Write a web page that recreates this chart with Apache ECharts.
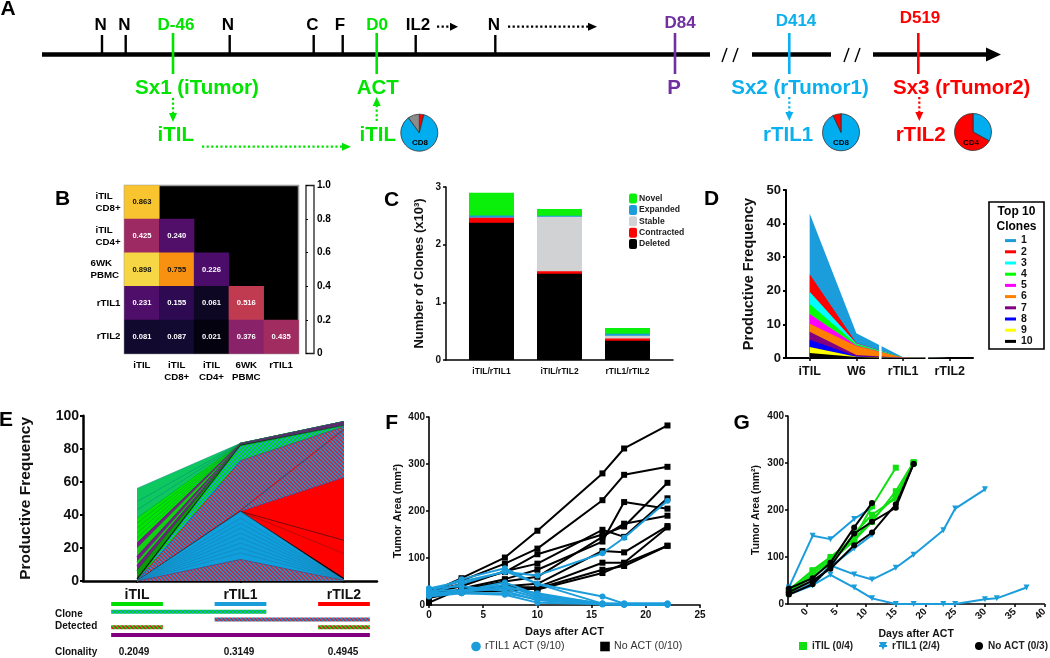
<!DOCTYPE html>
<html><head><meta charset="utf-8">
<style>html,body{margin:0;padding:0;background:#fff}#c{width:1050px;height:658px}</style>
<script src="https://cdn.jsdelivr.net/npm/echarts@6/dist/echarts.min.js"></script>
</head><body><div id="c"></div>
<script>
// ---------- DATA ----------
// B: repertoire overlap
const heatCols = ['iTIL','iTIL\nCD8+','iTIL\nCD4+','6WK\nPBMC','rTIL1'];
const heatRows = ['iTIL\nCD8+','iTIL\nCD4+','6WK\nPBMC','rTIL1','rTIL2'];
const heatRow0 = [0.863];
const heatRow1 = [0.425,0.240];
const heatRow2 = [0.898,0.755,0.226];
const heatRow3 = [0.231,0.155,0.061,0.516];
const heatRow4 = [0.081,0.087,0.021,0.376,0.435];
const colorbarTicks = [0,0.2,0.4,0.6,0.8,1.0];
// C: clones
const cloneCats = ['iTIL/rTIL1','iTIL/rTIL2','rTIL1/rTIL2'];
const cDeleted    = [2.38,1.497,0.334];
const cContracted = [0.085,0.04,0.04];
const cStable     = [0,0.945,0.046];
const cExpanded   = [0.04,0.02,0.035];
const cNovel      = [0.395,0.115,0.098];
// D: top 10 clones, stacked from clone 10 upward
const dCats = ['iTIL','W6','rTIL1','rTIL2'];
const dClone10 = [1.5,0.3,0.01,0];
const dClone9  = [1.8,0.1,0.01,0];
const dClone8  = [2.1,0.1,0.01,0];
const dClone7  = [2.4,0.4,0.01,0];
const dClone6  = [2.4,2.7,0.05,0];
const dClone5  = [2.9,0.1,0.01,0];
const dClone4  = [3.0,0.4,0.02,0];
const dClone3  = [3.6,0.2,0.01,0];
const dClone2  = [5.2,0.2,0.01,0];
const dClone1  = [18.1,2.9,0.05,0];
// E: clone tracking, stacked bottom to top [iTIL, rTIL1, rTIL2]
const eCats = ['iTIL','rTIL1','rTIL2'];
const eLowShared = [0,13,0.3];
const eBlue1=[0,4,0.04], eBlue2=[0,3,0.03], eBlue3=[0,3,0.03], eBlue4=[0,3,0.03], eBlue5=[0,3,0.03],
      eBlue6=[0,3,0.03], eBlue7=[0,3,0.03], eBlue8=[0,3,0.03], eBlue9=[0,4,0.04];
const eEdge = [0,0.1,1];
const eRed1=[0,0,15], eRed2=[0,0,8], eRed3=[0,0,38];
const eSharedA=[0,0.4,29], eStreak=[0,0.3,0.3], eSharedB=[0,30,1.5];
const eGreenShared=[0.5,9,0.6];
const eBlackFan=[1,0.3,0];
const eDarkGreen=[5,0,0];
const ePurple1=[3,0.4,0.8], eFan1=[2.5,0,0], ePurple2=[3,0.4,0.8], eFan2=[5,0,0], ePurple3=[3,0.4,0.9];
const eFan3=[3,0,0], eFan4=[3,0,0], eFan5=[3,0,0], eFan6=[3,0,0], eFan7=[3,0,0];
const eTeal1=[5,0,0], eTeal2=[5,0,0], eTeal3=[8,0,0];
const eRowLabels=['s1','s2','s3','s4','s5'];
const clonality=['0.2049','0.3149','0.4945'];
// F
const fDays=[0,3,7,10,16,18,22];
const fNo1=[25,57,101,158,280,333,382];
const fNo2=[30,52,88,120,223,277,294];
const fNo3=[28,45,70,108,150,167,260];
const fNo4=[25,40,72,88,160,145,227];
const fNo5=[5,35,55,75,135,219,205];
const fNo6=[20,33,50,60,145,173,190];
const fNo7=[25,30,40,45,115,112,168];
const fNo8=[15,30,38,38,90,90,165];
const fNo9=[22,28,30,35,75,83,126];
const fNo10=[30,28,42,33,68,88,126];
const fAct1=[35,50,70,63,110,143,222];
const fAct2=[28,55,78,45,18,3,3];
const fAct3=[25,45,72,45,3,3,3];
const fAct4=[22,30,48,22,3,2,2];
const fAct5=[30,32,42,18,2,1,1];
const fAct6=[20,28,35,15,3,1,1];
const fAct7=[27,25,25,12,2,1,1];
const fAct8=[18,25,22,5,2,1,1];
const fAct9=[35,40,30,10,1,1,1];
const fAct10=[24,30,38,25,2,1,1];
// G
const gDays=[-3,1,4,8,11,15,18];
const gDaysLong=[-3,1,4,8,11,15,18,23,25,30,32,37];
const gITIL1=[30,72,100,140,208,290];
const gITIL2=[25,65,90,135,175,240,302];
const gITIL3=[22,60,85,150,190,225,300];
const gITIL4=[28,70,95,138,180,230,300];
const gR1=[35,145,138,181,205];
const gR2=[20,40,80,118,147];
const gR3=[20,45,82,63,52,77,105,157,203,244];
const gR4=[22,40,62,35,12,0,0,0,0,10,12,35];
const gNo1=[33,55,88,163,215];
const gNo2=[20,42,80,150,175,205,298];
const gNo3=[25,50,75,125,152,212,298];
// A: pies
const pie1=[4,86,10], pie2=[93,7], pie3=[33,67];
const tlBlackLabels=['N','N','N','C','F','IL2','N'];
const tlDayLabels=['D-46','D0','D84','D414','D519'];

// ---------- STYLE / LAYOUT ----------
const FF='"Liberation Sans",Arial,sans-serif';
const GREEN='#00E400', SKY='#0CB0EE', RED='#FF0000', PURPLE='#7B1A8A', BLUE='#1B9DDB';
function hatch(a,b){
  const c=document.createElement('canvas');c.width=4;c.height=4;
  const x=c.getContext('2d');x.fillStyle=a;x.fillRect(0,0,4,4);x.fillStyle=b;
  for(let i=0;i<4;i++){x.fillRect(i,i,1,1);x.fillRect((i+1)%4,i,1,1);}
  return {image:c,repeat:'repeat'};
}
const H_BR=hatch('#1B8FD0','#D02A3A'), H_GB=hatch('#00E000','#1B9DDB'), H_GR=hatch('#10D010','#E02020');
const bold=(s,c)=>({fontFamily:FF,fontWeight:'bold',fontSize:s,color:c||'#000'});
const axLine=w=>({show:true,onZero:false,lineStyle:{color:'#000',width:w}});
const axTick=(l,w)=>({show:true,length:l,lineStyle:{color:'#000',width:w}});
// running totals of a bottom-to-top list of bands
function cumulate(list){let s=list[0].map(()=>0);return list.map(v=>{s=s.map((a,i)=>a+v[i]);return s;});}

const grids=[], xAxes=[], yAxes=[], series=[], legends=[], gfx=[];
function addGrid(g,x,y){grids.push(Object.assign({containLabel:false},g));const i=grids.length-1;
  xAxes.push(Object.assign({gridIndex:i},x));yAxes.push(Object.assign({gridIndex:i},y));return i;}
const T=(x,y,t,size,color,align,extra)=>gfx.push(Object.assign({type:'text',x,y,z:50,silent:true,
  style:{text:t,fontFamily:FF,fontWeight:'bold',fontSize:size,fill:color||'#000',textAlign:align||'center',textVerticalAlign:'middle'}},extra||{}));

// ---------- PANEL A ----------
const TL_PURPLE='#7030A0';
const gA=addGrid({left:0,top:0,width:1050,height:658,show:false},
  {type:'value',min:0,max:1050,show:false},{type:'value',min:0,max:658,inverse:true,show:false});
const tlMarks=[];
const L=(x1,y1,x2,y2,c,w,d)=>tlMarks.push({k:'l',x1,y1,x2,y2,c,w,d});
const P=(pts,c)=>tlMarks.push({k:'p',pts,c});
L(42,54.5,710,54.5,'#000',4.6);L(752,54.5,831,54.5,'#000',4.6);L(873,54.5,988,54.5,'#000',4.6);
P([[986,47.5],[1001,54.5],[986,61.5]],'#000');
L(722,62,727,48,'#000',1.4);L(733,62,738,48,'#000',1.4);
L(844,62,849,48,'#000',1.4);L(855,62,860,48,'#000',1.4);
const blackTickX=[102,125.7,229.7,313.7,342.7,415.7,495.3];
blackTickX.forEach(x=>L(x,35,x,54,'#000',2.4));
[[173,GREEN],[376.7,GREEN],[675,TL_PURPLE],[789.3,SKY],[918.3,RED]].forEach(a=>L(a[0],33,a[0],74,a[1],2.6));
const dash=[2.2,2.4];
L(437,26.7,451,26.7,'#000',2.2,dash);P([[450,22.7],[458,26.7],[450,30.7]],'#000');
L(508,26.7,589,26.7,'#000',2.2,dash);P([[588,22.7],[597,26.7],[588,30.7]],'#000');
L(173,98,173,113,GREEN,2.2,dash);P([[169,113],[177,113],[173,122]],GREEN);
L(202,146.7,342,146.7,GREEN,2.2,dash);P([[342,142.7],[351,146.7],[342,150.7]],GREEN);
L(376.7,121,376.7,106,GREEN,2.2,dash);P([[372.7,106],[380.7,106],[376.7,97]],GREEN);
L(789.3,97,789.3,112,SKY,2.2,dash);P([[785.3,112],[793.3,112],[789.3,121]],SKY);
L(919.3,97,919.3,112,RED,2.2,dash);P([[915.3,112],[923.3,112],[919.3,121]],RED);
series.push({type:'custom',xAxisIndex:gA,yAxisIndex:gA,silent:true,data:tlMarks.map((m,i)=>[i]),z:1,clip:false,
  renderItem(p,api){const m=tlMarks[p.dataIndex];
    if(m.k==='l'){const a=api.coord([m.x1,m.y1]),b=api.coord([m.x2,m.y2]);
      return {type:'line',shape:{x1:a[0],y1:a[1],x2:b[0],y2:b[1]},style:{stroke:m.c,lineWidth:m.w,lineDash:m.d||null,fill:null}};}
    return {type:'polygon',shape:{points:m.pts.map(q=>api.coord(q))},style:{fill:m.c}};}});
// timeline text
const blackLabelX=[100.7,124.3,228,312.5,340,418,494];
tlBlackLabels.forEach((t,i)=>T(blackLabelX[i],25,t,17));
const dayX=[176,377,680,796,920], dayY=[25,25,23,21,18], dayC=[GREEN,GREEN,TL_PURPLE,SKY,RED];
tlDayLabels.forEach((t,i)=>T(dayX[i],dayY[i],t,17,dayC[i]));
T(197,88,'Sx1 (iTumor)',20.5,GREEN);T(377.7,88,'ACT',20.5,GREEN);T(674,88,'P',20.5,TL_PURPLE);
T(800,88,'Sx2 (rTumor1)',20.5,SKY);T(961.7,88,'Sx3 (rTumor2)',20.5,RED);
T(175.7,135,'iTIL',20.5,GREEN);T(377.7,135,'iTIL',20.5,GREEN);T(788,135,'rTIL1',20.5,SKY);T(920.7,135,'rTIL2',20.5,RED);
const pieBase={type:'pie',radius:18.5,startAngle:90,clockwise:true,silent:true,label:{show:false},labelLine:{show:false},
  itemStyle:{borderColor:'#333',borderWidth:0.8},emphasis:{disabled:true},z:5};
series.push(Object.assign({},pieBase,{center:[419.3,132.7],data:[
  {value:pie1[0],name:'a1',itemStyle:{color:RED}},{value:pie1[1],name:'a2',itemStyle:{color:'#00AEEF'}},{value:pie1[2],name:'a3',itemStyle:{color:'#8C8C8C'}}]}));
series.push(Object.assign({},pieBase,{center:[841,132.3],data:[
  {value:pie2[0],name:'b1',itemStyle:{color:'#00AEEF'}},{value:pie2[1],name:'b2',itemStyle:{color:RED}}]}));
series.push(Object.assign({},pieBase,{center:[973,132],data:[
  {value:pie3[0],name:'c1',itemStyle:{color:'#00AEEF'}},{value:pie3[1],name:'c2',itemStyle:{color:RED}}]}));
T(420,143,'CD8',8,'#000');T(841,143,'CD8',8,'#000');T(971,143,'CD4',8,'#000');

// ---------- PANEL LETTERS ----------
[['A',8,9],['B',62.7,199],['C',391.7,200],['D',711.7,199],['E',6,420],['F',391.7,423],['G',741.7,423]]
  .forEach(a=>T(a[1],a[2],a[0],21));

// ---------- PANEL B ----------
const richW={w25:{width:25,align:'left',lineHeight:12,fontFamily:FF,fontWeight:'bold',fontSize:9.7,color:'#000'},
             w29:{width:30,align:'left',lineHeight:12,fontFamily:FF,fontWeight:'bold',fontSize:9.7,color:'#000'}};
const gB=addGrid({left:124.5,top:185.5,width:174,height:168,show:true,backgroundColor:'#000',borderColor:'#999',borderWidth:1.5},
  {type:'category',data:heatCols,axisLine:{show:false},axisTick:{show:false},splitLine:{show:false},
   axisLabel:Object.assign(bold(9.7),{margin:6,lineHeight:12,interval:0})},
  {type:'category',data:heatRows,inverse:true,axisLine:{show:false},axisTick:{show:false},splitLine:{show:false},
   axisLabel:Object.assign(bold(9.7),{margin:4,interval:0,rich:richW,formatter:v=>{
     const p=v.split('\n');if(p.length<2)return v;const k=p[0]==='6WK'?'w29':'w25';return p.map(s=>'{'+k+'|'+s+'}').join('\n');}})});
const heatAll=[heatRow0,heatRow1,heatRow2,heatRow3,heatRow4];
const heatData=[];
heatAll.forEach((r,ri)=>r.forEach((v,ci)=>heatData.push({value:[ci,ri,v],label:{color:v>0.7?'#111':'#fff'}})));
const heatIdx=series.length;
series.push({type:'heatmap',xAxisIndex:gB,yAxisIndex:gB,data:heatData,silent:true,
  label:{show:true,fontFamily:FF,fontWeight:'bold',fontSize:7.6,formatter:p=>p.value[2].toFixed(3)},emphasis:{disabled:true}});
const gBar=addGrid({left:306,top:185.5,width:8,height:168,show:true,backgroundColor:'#fff',borderColor:'#222',borderWidth:1.3},
  {type:'value',show:false,min:0,max:1},
  {type:'value',position:'right',min:0,max:1,interval:0.2,splitLine:{show:false},axisLine:{show:false},
   axisTick:{show:true,length:2,lineStyle:{color:'#000',width:1.2}},
   axisLabel:Object.assign(bold(10),{margin:3,customValues:colorbarTicks,formatter:v=>v===0?'0':v.toFixed(1)})});

// ---------- PANEL C ----------
const gC=addGrid({left:446,top:187,width:227,height:173},
  {type:'value',min:-0.669,max:2.669,splitLine:{show:false},axisLine:axLine(1.5),axisTick:{show:false},
   axisLabel:Object.assign(bold(8.5,'#111'),{margin:7,customValues:[0,1,2],formatter:v=>cloneCats[v]})},
  {type:'value',min:0,max:3,interval:1,splitLine:{show:false},axisLine:axLine(1.5),axisTick:axTick(3,1.5),
   axisLabel:Object.assign(bold(10,'#111'),{margin:5}),
   name:'Number of Clones (x10³)',nameLocation:'middle',nameGap:20,nameTextStyle:bold(13,'#111')});
const cBands=[['Deleted',cDeleted,'#000'],['Contracted',cContracted,'#FF0000'],['Stable',cStable,'#D0D2D3'],
 ['Expanded',cExpanded,BLUE],['Novel',cNovel,'#0BF00B']];
const cTotals=cumulate(cBands.map(b=>b[1]));
cBands.map((b,i)=>[b,cTotals[i]]).reverse().forEach(([b,tot])=>series.push({
  type:'bar',name:b[0],barGap:'-100%',xAxisIndex:gC,yAxisIndex:gC,barWidth:45,silent:true,itemStyle:{color:b[2]},
  data:tot.map((v,i)=>[i,v])}));
legends.push({data:['Novel','Expanded','Stable','Contracted','Deleted'],orient:'vertical',left:629,top:193.5,
  itemWidth:8,itemHeight:10,itemGap:1.4,selectedMode:false,textStyle:Object.assign(bold(8.6,'#222'),{padding:[0,0,0,-3]}),padding:0});

// ---------- PANEL D ----------
const gD=addGrid({left:786,top:190,width:187,height:168},
  {type:'value',min:-0.507,max:3.497,splitLine:{show:false},axisLine:axLine(2),
   axisTick:{show:true,length:3,lineStyle:{color:'#000',width:1.5},customValues:[0,1,2,3]},
   axisLabel:Object.assign(bold(12.5,'#111'),{margin:7,customValues:[0,1,2,3],formatter:v=>dCats[v]})},
  {type:'value',min:0,max:50,interval:10,splitLine:{show:false},axisLine:axLine(2),axisTick:axTick(3,2),
   axisLabel:Object.assign(bold(13,'#111'),{margin:5}),
   name:'Productive Frequency',nameLocation:'middle',nameGap:30,nameTextStyle:bold(14.5,'#111')});
const dBands=[['10',dClone10,'#000'],['9',dClone9,'#FFFF00'],['8',dClone8,'#0000FF'],['7',dClone7,'#800080'],['6',dClone6,'#FF8000'],
 ['5',dClone5,'#FF00FF'],['4',dClone4,'#00FF00'],['3',dClone3,'#00FFFF'],['2',dClone2,'#FF0000'],['1',dClone1,BLUE]];
const dTotals=cumulate(dBands.map(b=>b[1]));
dBands.map((b,i)=>[b,dTotals[i]]).reverse().forEach(([b,tot],k)=>series.push({type:'line',name:b[0],xAxisIndex:gD,yAxisIndex:gD,silent:true,z:3+k,
  showSymbol:false,symbol:'none',lineStyle:{width:0,color:b[2]},itemStyle:{color:b[2]},areaStyle:{color:b[2],opacity:1},
  data:tot.map((v,i)=>[i,v]),clip:false}));
gfx.push({type:'rect',z:40,silent:true,shape:{x:879,y:344,width:2.6,height:18},style:{fill:'#fff'}});
gfx.push({type:'rect',z:40,silent:true,shape:{x:925.5,y:352,width:2.6,height:10},style:{fill:'#fff'}});
gfx.push({type:'rect',z:30,silent:true,shape:{x:989,y:202,width:55,height:147},style:{fill:'none',stroke:'#000',lineWidth:1.6}});
T(1016.5,212,'Top 10',12);T(1016.5,227,'Clones',12);
legends.push({data:['1','2','3','4','5','6','7','8','9','10'],orient:'vertical',left:1005,top:235,
  itemWidth:11,itemHeight:3,itemGap:0,icon:'rect',selectedMode:false,
  textStyle:Object.assign(bold(10.5,'#111'),{lineHeight:11.2}),padding:0});

// ---------- PANEL E ----------
const gE=addGrid({left:83,top:415.7,width:294,height:165.3},
  {type:'value',min:-0.522,max:2.319,splitLine:{show:false},axisLine:axLine(2.5),
   axisTick:{show:true,length:2,lineStyle:{color:'#000',width:1.5},customValues:[0,1,2]},
   axisLabel:Object.assign(bold(14,'#111'),{margin:7,customValues:[0,1,2],formatter:v=>eCats[v]})},
  {type:'value',min:0,max:100,interval:20,splitLine:{show:false},axisLine:axLine(2.5),axisTick:axTick(3,2),
   axisLabel:Object.assign(bold(14,'#111'),{margin:4}),
   name:'Productive Frequency',nameLocation:'middle',nameGap:49,nameTextStyle:bold(15.5,'#111')});
const eBands=[];
const band=(vals,color,line,lw)=>eBands.push({vals,color,line,lw:lw===undefined?0.6:lw});
band(eLowShared,H_BR,'#6b2a5a');
[eBlue1,eBlue2,eBlue3,eBlue4,eBlue5,eBlue6,eBlue7,eBlue8,eBlue9].forEach(b=>band(b,'#0F9FDC','#1A7FB0'));
band(eEdge,'#000','#000');
band(eRed1,RED,'#8B1010');band(eRed2,RED,'#7A0A0A',1);band(eRed3,RED,'#5b3b80');
band(eSharedA,H_BR,'#7a2a4a');band(eStreak,'#A0222A','#A0222A');band(eSharedB,H_BR,'#6b2a5a');
band(eGreenShared,H_GB,'#0a9a30');band(eBlackFan,'#000','#000');band(eDarkGreen,'#0A9A0A','#066a06',0.8);
band(ePurple1,PURPLE,'#5a1a7a');band(eFan1,'#10D010','#0a8a20');band(ePurple2,PURPLE,'#5a1a7a');band(eFan2,'#10D010','#0a8a20');
band(ePurple3,PURPLE,'#5a1a7a');
[eFan3,eFan4,eFan5,eFan6,eFan7].forEach(b=>band(b,'#00E600','#0a9a3a'));
[eTeal1,eTeal2,eTeal3].forEach(b=>band(b,'#0CC85E','#0b8f7a'));
const eTotals=cumulate(eBands.map(b=>b.vals));
eBands.map((b,i)=>[b,eTotals[i]]).reverse().forEach(([b,tot],k)=>series.push({type:'line',xAxisIndex:gE,yAxisIndex:gE,silent:true,z:3+k,
  showSymbol:false,symbol:'none',lineStyle:{width:b.lw,color:b.line},areaStyle:{color:b.color,opacity:1},
  data:tot.map((v,i)=>[i,v]),clip:false}));
// detected rows
const gRows=addGrid({left:83,top:600.1,width:294,height:38.75,show:false},
  {type:'value',min:-0.522,max:2.319,show:false},{type:'category',data:eRowLabels,inverse:true,show:false});
const detectedRows=[0,0,0,1,2,3,3,4], detectedFrom=[0,1,2,0,1,0,2,0], detectedTo=[0,1,2,1,2,0,2,2];
const detectedFill=['#00E000','#1B9DDB','#FF0000',H_GB,H_BR,H_GR,H_GR,'#800080'];
series.push({type:'custom',xAxisIndex:gRows,yAxisIndex:gRows,silent:true,clip:false,
  data:detectedRows.map((r,i)=>[detectedFrom[i],r,detectedTo[i]]),
  renderItem(p,api){const a=api.coord([api.value(0)-0.25,api.value(1)]),b=api.coord([api.value(2)+0.25,api.value(1)]);
    return {type:'rect',shape:{x:a[0],y:a[1]-2,width:b[0]-a[0],height:4},style:{fill:detectedFill[p.dataIndex]}};}});
T(55,614,'Clone',10,'#111','left');T(55,626,'Detected',10,'#111','left');T(55,652,'Clonality',10,'#111','left');
[134,239,343].forEach((x,i)=>T(x,652,clonality[i],10,'#111'));

// ---------- PANEL F ----------
const gF=addGrid({left:429,top:417,width:271,height:188},
  {type:'value',min:0,max:25,interval:5,splitLine:{show:false},axisLine:axLine(1.6),axisTick:axTick(3,1.5),
   axisLabel:Object.assign(bold(10,'#111'),{margin:5}),
   name:'Days after ACT',nameLocation:'middle',nameGap:21,nameTextStyle:bold(11,'#111')},
  {type:'value',min:0,max:400,interval:100,splitLine:{show:false},axisLine:axLine(1.6),axisTick:axTick(3,1.5),
   axisLabel:Object.assign(bold(10,'#111'),{margin:4}),
   name:'Tumor Area (mm²)',nameLocation:'middle',nameGap:26,nameTextStyle:bold(11,'#111')});
const ln=(gi,name,xs,ys,color,symbol,size,extra)=>series.push(Object.assign({type:'line',name,xAxisIndex:gi,yAxisIndex:gi,silent:true,
  symbol,symbolSize:size,showSymbol:true,showAllSymbol:true,clip:false,lineStyle:{color,width:2},itemStyle:{color},data:ys.map((v,i)=>[xs[i],v])},extra||{}));
const noF='No ACT (0/10)', actF='rTIL1 ACT (9/10)';
[fNo1,fNo2,fNo3,fNo4,fNo5,fNo6,fNo7,fNo8,fNo9,fNo10].forEach(a=>ln(gF,noF,fDays,a,'#000','rect',6));
[fAct2,fAct3,fAct4,fAct5,fAct6,fAct7,fAct8,fAct9,fAct10,fAct1].forEach(a=>ln(gF,actF,fDays,a,BLUE,'circle',6,{z:4}));
legends.push({data:[actF],left:471,top:641,itemWidth:8,itemHeight:12,selectedMode:false,textStyle:{fontFamily:FF,fontSize:10.6,color:'#333'},padding:0});
legends.push({data:[noF],left:600,top:641,itemWidth:8,itemHeight:12,selectedMode:false,textStyle:{fontFamily:FF,fontSize:10.6,color:'#333'},padding:0});

// ---------- PANEL G ----------
const gVals=[0,5,10,15,20,25,30,35,40];
const gG=addGrid({left:788,top:416,width:261,height:188},
  {type:'value',min:-3.14,max:40,splitLine:{show:false},axisLine:axLine(1.6),
   axisTick:{show:true,length:3,lineStyle:{color:'#000',width:1.5},customValues:gVals},
   axisLabel:Object.assign(bold(10,'#111'),{margin:6,rotate:45,customValues:gVals}),
   name:'Days after ACT',nameLocation:'middle',nameGap:25,nameTextStyle:bold(10.5,'#111')},
  {type:'value',min:0,max:400,interval:100,splitLine:{show:false},axisLine:axLine(1.6),axisTick:axTick(3,1.5),
   axisLabel:Object.assign(bold(10,'#111'),{margin:4}),
   name:'Tumor Area (mm²)',nameLocation:'middle',nameGap:26,nameTextStyle:bold(10.5,'#111')});
const nR='rTIL1 (2/4)', nI='iTIL (0/4)', nK='No ACT (0/3)';
[gR1,gR2,gR3,gR4].forEach(a=>ln(gG,nR,gDaysLong,a,BLUE,'triangle',6,{symbolRotate:180}));
[gITIL1,gITIL2,gITIL3,gITIL4].forEach(a=>ln(gG,nI,gDays,a,'#10E010','rect',6,{z:3}));
[gNo1,gNo2,gNo3].forEach(a=>ln(gG,nK,gDays,a,'#000','circle',6,{z:4}));
[[nI,798],[nR,878],[nK,974]].forEach(a=>legends.push({data:[a[0]],left:a[1],top:641,itemWidth:8,itemHeight:10,
  selectedMode:false,textStyle:bold(10,'#222'),padding:0}));

// ---------- CHART ----------
const chart=echarts.init(document.getElementById('c'),null,{renderer:'canvas'});
chart.setOption({animation:false,backgroundColor:'#fff',tooltip:{show:false},
  grid:grids,xAxis:xAxes,yAxis:yAxes,series,legend:legends,graphic:{elements:gfx},
  visualMap:{show:false,min:0,max:1,dimension:2,seriesIndex:heatIdx,
    inRange:{color:['#000004','#160b39','#420a68','#6a176e','#932667','#bc3754','#dd513a','#f37819','#fca50a','#f6d746','#fcffa4']}}});
</script></body></html>
